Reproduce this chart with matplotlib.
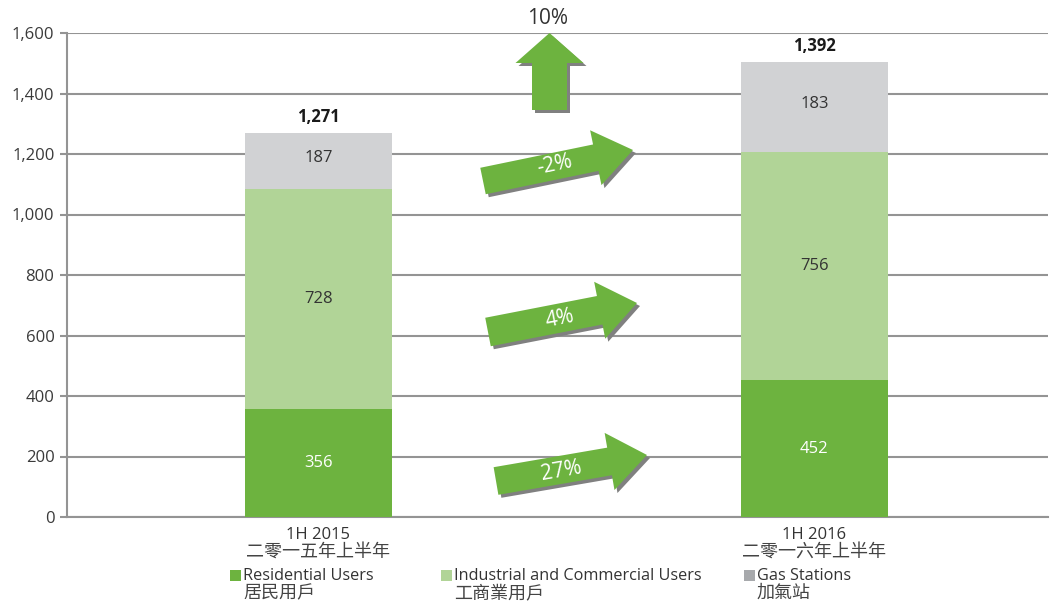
import numpy as np
import matplotlib
matplotlib.use("Agg")
import matplotlib.pyplot as plt
from matplotlib.patches import Polygon, Rectangle
from matplotlib.transforms import Affine2D
from matplotlib.ticker import FuncFormatter

plt.rcParams['font.family'] = ['Open Sans', 'Noto Sans CJK TC', 'DejaVu Sans']

W, H = 1051, 605

periods = ['1H 2015', '1H 2016']
periods_zh = ['二零一五年上半年', '二零一六年上半年']
residential = [356, 452]
industrial = [728, 756]
gas_labels = [187, 183]
# the gas segment of 1H 2016 is drawn taller than its label in the source
gas_drawn = [187, 297]
totals = ['1,271', '1,392']

growth_labels = ['27%', '4%', '-2%']
total_growth = '10%'

series_names = ['Residential Users\n居民用戶', 'Industrial and Commercial Users\n工商業用戶', 'Gas Stations\n加氣站']
c_res = '#6db33f'
c_ind = '#b1d497'
c_gas = '#d1d2d4'
c_gas_leg = '#a7a9ac'
grid_c = '#949494'
txt_c = '#333333'

fig = plt.figure(figsize=(W / 100, H / 100), dpi=100)
ax = fig.add_axes([67 / W, 88 / H, 981 / W, 484 / H])

# pixel coords of the reference image (y downwards)
px = Affine2D().scale(1 / W, -1 / H).translate(0, 1) + fig.transFigure

x = np.arange(len(periods))
bw = 0.296
ax.bar(x, residential, bw, color=c_res, zorder=3)
ax.bar(x, industrial, bw, bottom=residential, color=c_ind, zorder=3)
bot2 = np.array(residential) + np.array(industrial)
ax.bar(x, gas_drawn, bw, bottom=bot2, color=c_gas, zorder=3)

for i in range(len(x)):
    ax.text(x[i], residential[i] / 2, str(residential[i]), ha='center', va='center',
            color='white', fontsize=12, zorder=4)
    ax.text(x[i], residential[i] + industrial[i] / 2, str(industrial[i]), ha='center',
            va='center', color=txt_c, fontsize=12, zorder=4)
    ax.text(x[i], bot2[i] + gas_drawn[i] / 2 + 10, str(gas_labels[i]), ha='center',
            va='center', color=txt_c, fontsize=12, zorder=4)
    ax.annotate(totals[i], (x[i], bot2[i] + gas_drawn[i]), xytext=(0, 11),
                textcoords='offset points', ha='center', va='center',
                fontsize=12, fontweight='bold', color='#1a1a1a')

ax.set_xlim(-0.507, 1.471)
ax.set_ylim(0, 1600)
ax.set_yticks(np.arange(0, 1601, 200))
ax.yaxis.set_major_formatter(FuncFormatter(lambda v, p: f'{int(v):,}'))
ax.yaxis.grid(True, color=grid_c, linewidth=1.5, zorder=0)
ax.set_xticks([])
for s in ['top', 'right']:
    ax.spines[s].set_visible(False)
for s in ['left', 'bottom']:
    ax.spines[s].set_color(grid_c)
    ax.spines[s].set_linewidth(1.5)
ax.tick_params(axis='y', length=5, width=1.5, color=grid_c, labelsize=12,
               labelcolor='#3a3a3a', pad=4)

for i in range(len(x)):
    ax.annotate(periods[i], (x[i], 0), xytext=(0, -13), textcoords='offset points',
                ha='center', va='center', fontsize=12, color=txt_c)
    ax.annotate(periods_zh[i], (x[i], 0), xytext=(0, -25), textcoords='offset points',
                ha='center', va='center', fontsize=13, color='#444444')


def arrow_poly(tail, tip, w, hw, hl):
    tail = np.array(tail, float)
    tip = np.array(tip, float)
    u = (tip - tail) / np.linalg.norm(tip - tail)
    n = np.array([-u[1], u[0]])
    base = tip - u * hl
    return np.array([tail + n * w / 2, base + n * w / 2, base + n * hw / 2, tip,
                     base - n * hw / 2, base - n * w / 2, tail - n * w / 2])


def draw_arrow(tail, tip, w, hw, hl, label=None, lpos=None):
    pts = arrow_poly(tail, tip, w, hw, hl)
    fig.patches.append(Polygon(pts + [3, 3], closed=True, transform=px,
                               facecolor='#808080', edgecolor='none', zorder=5))
    fig.patches.append(Polygon(pts, closed=True, transform=px,
                               facecolor=c_res, edgecolor='none', zorder=6))
    if label:
        ang = np.degrees(np.arctan2(tail[1] - tip[1], tip[0] - tail[0]))
        fig.text(lpos[0], lpos[1], label, transform=px, rotation=ang,
                 rotation_mode='anchor', ha='center', va='center',
                 color='white', fontsize=15, zorder=7)


draw_arrow((496, 481), (647, 455), 28, 58, 38, growth_labels[0], (561, 471))
draw_arrow((488, 332), (637, 303), 29, 58, 38, growth_labels[1], (560, 319))
draw_arrow((483, 181), (633, 150), 27, 56, 38, growth_labels[2], (555, 165))
draw_arrow((549.5, 110), (549.5, 33), 35, 68, 30)
fig.text(548, 18, total_growth, transform=px, ha='center', va='center',
         fontsize=15, color=txt_c)

# legend
leg_x = [230, 441, 744]
leg_c = [c_res, c_ind, c_gas_leg]
for lx, lc, name in zip(leg_x, leg_c, series_names):
    fig.patches.append(Rectangle((lx, 581), 11, -11, transform=px,
                                 facecolor=lc, edgecolor='none'))
    l1, l2 = name.split('\n')
    fig.text(lx + 13, 576, l1, transform=px, ha='left', va='center',
             fontsize=11.7, color=txt_c)
    fig.text(lx + 13, 593, l2, transform=px, ha='left', va='center',
             fontsize=13, color='#444444')

fig.savefig('out.png', dpi=100)
